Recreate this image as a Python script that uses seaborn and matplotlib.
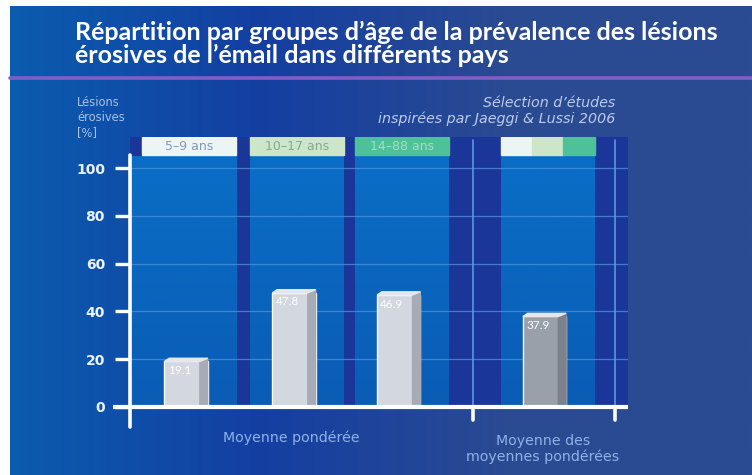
import matplotlib.pyplot as plt
import numpy as np
import pandas as pd
import seaborn as sns
from matplotlib.colors import LinearSegmentedColormap
from matplotlib.patches import Polygon, Rectangle

# données
groupes = ['5–9 ans', '10–17 ans', '14–88 ans', 'Moyenne des moyennes']
prevalence = [19.1, 47.8, 46.9, 37.9]
etiquettes = ['19.1', '47.8', '46.9', '37.9']
yticks = [0, 20, 40, 60, 80, 100]

# mise en page (positions des colonnes sur l'axe x)
positions = [0, 1, 1.97, 3.32]
couleurs_barres = ['#d3d7df', '#d3d7df', '#d3d7df', '#9aa0aa']
couleurs_cotes = ['#a7abb6', '#a7abb6', '#a7abb6', '#7c828d']
couleurs_entete = ['#edf4f4', '#cde6c9', '#4fc19a']
couleurs_texte_entete = ['#7f9cba', '#86a98f', '#a6dcc6']

sns.set_theme(style='white')
plt.rcParams['font.family'] = ['Lato', 'DejaVu Sans']

fig = plt.figure(figsize=(7.52, 4.75), dpi=100)
fig.patch.set_facecolor('white')

# fond en dégradé
bg = fig.add_axes([10 / 752, 0, 1 - 10 / 752, 1 - 6 / 475])
cmap_bg = LinearSegmentedColormap.from_list('bg', ['#0b5caf', '#143fa2', '#2a4a92', '#2b4b92'])
bg.imshow(np.linspace(0, 1, 256).reshape(1, -1), cmap=cmap_bg, aspect='auto', extent=[0, 1, 0, 1])
bg.set_axis_off()

# ligne violette sous le titre
fig.add_artist(plt.Line2D([10 / 752, 1], [1 - 78 / 475] * 2, color='#7e5fc6', lw=2.6))

fig.text(75 / 752, 1 - 21 / 475,
         "Répartition par groupes d’âge de la prévalence des lésions\nérosives de l’émail dans différents pays",
         color='white', fontsize=18, fontweight='bold', va='top', ha='left', linespacing=0.98)

ax = fig.add_axes([130 / 752, 1 - 407 / 475, 498 / 752, 270 / 475])
ax.set_facecolor('#1b3699')

df = pd.DataFrame({'pos': positions, 'prev': prevalence, 'groupe': groupes})
min_diff = np.min(np.diff(positions))
sns.barplot(data=df, x='pos', y='prev', hue='groupe', palette=couleurs_barres,
            native_scale=True, width=0.4 / min_diff, dodge=False, legend=False,
            saturation=1, ax=ax, zorder=4)
barres = list(ax.patches)

xmin, xmax = -0.519, 4.093
haut_col = 105
cw = 0.87
cmap_col = LinearSegmentedColormap.from_list('col', ['#0a5cb5', '#0a6ec6'])
grad = np.linspace(0, 1, 128).reshape(-1, 1)
for i, p in enumerate(positions):
    x0 = p - cw / 2 + 0.03
    gauche = xmin if i == 0 else x0
    ax.imshow(grad, cmap=cmap_col, origin='lower', aspect='auto',
              extent=[gauche, x0 + cw, 0, haut_col], zorder=1)
    if i < 3:
        ax.add_patch(Rectangle((x0, haut_col + 0.4), cw, 7.6, color=couleurs_entete[i], zorder=3))
        ax.text(x0 + cw / 2, haut_col + 4.2, groupes[i], color=couleurs_texte_entete[i],
                fontsize=9, family='DejaVu Sans', ha='center', va='center', zorder=5)
    else:
        for k in range(3):
            ax.add_patch(Rectangle((x0 + k * cw / 3, haut_col + 0.4), cw / 3, 7.6,
                                   color=couleurs_entete[k], zorder=3))

# lignes de grille
for t in yticks[1:]:
    ax.axhline(t, color='#4f93da', lw=0.9, alpha=0.75, zorder=2)
for xv in [2.657, 3.972]:
    ax.plot([xv, xv], [0, 111.7], color='#5e97df', lw=1.2, zorder=2)
    ax.plot([xv, xv], [0, -5.4], color='white', lw=2.6, zorder=7, clip_on=False)

# effet 3D des barres + valeurs
for b, lab, c_side in zip(barres, etiquettes, couleurs_cotes):
    x0 = b.get_x()
    w = b.get_width()
    h = b.get_height()
    sw = w * 0.18
    x1 = x0 + w
    ax.add_patch(Polygon([(x1 - sw, 0), (x1, 0), (x1, h + 1.3), (x1 - sw, h)],
                         color=c_side, zorder=4.5))
    ax.add_patch(Polygon([(x0, h), (x1 - sw, h), (x1, h + 1.3), (x0 + sw * 0.6, h + 1.3)],
                         color='#e4e8ee', zorder=4.5))
    ax.text(x0 + 0.03, h - 1.5, lab, color='white', fontsize=8.5, ha='left', va='top', zorder=6)

# axes
ax.plot([-0.676, xmax], [0, 0], color='white', lw=3, zorder=7, clip_on=False, solid_capstyle='butt')
ax.plot([xmin, xmin], [-8.4, 105.4], color='white', lw=2.6, zorder=7, clip_on=False)

ax.set_xlim(xmin, xmax)
ax.set_ylim(0, 113)
ax.set_xticks([])
ax.set_xlabel('')
ax.set_ylabel('')
ax.set_yticks(yticks)
ax.tick_params(axis='y', left=True, length=11, width=2.4, color='white', pad=7,
               labelsize=10, labelcolor='#eaf2ff', direction='out')
for lbl in ax.get_yticklabels():
    lbl.set_fontweight('bold')
    lbl.set_family('DejaVu Sans')
for s in ax.spines.values():
    s.set_visible(False)

# textes annexes
fig.text(77 / 752, 1 - 96 / 475, "Lésions\nérosives\n[%]", color='#a9c1e3', fontsize=8.3,
         family='DejaVu Sans', va='top', ha='left', linespacing=1.2)
fig.text(615 / 752, 1 - 96 / 475, "Sélection d’études\ninspirées par Jaeggi & Lussi 2006",
         color='#bccbec', fontsize=10.3, family='DejaVu Sans', style='italic',
         va='top', ha='right', linespacing=1.1)
fig.text(291 / 752, 1 - 438 / 475, "Moyenne pondérée", color='#8db3e6', fontsize=10.2,
         family='DejaVu Sans', ha='center', va='center')
fig.text(543 / 752, 1 - 449 / 475, "Moyenne des\nmoyennes pondérées", color='#8db3e6',
         fontsize=10.2, family='DejaVu Sans', ha='center', va='center', linespacing=1.1)

fig.savefig('out.png', dpi=100)
